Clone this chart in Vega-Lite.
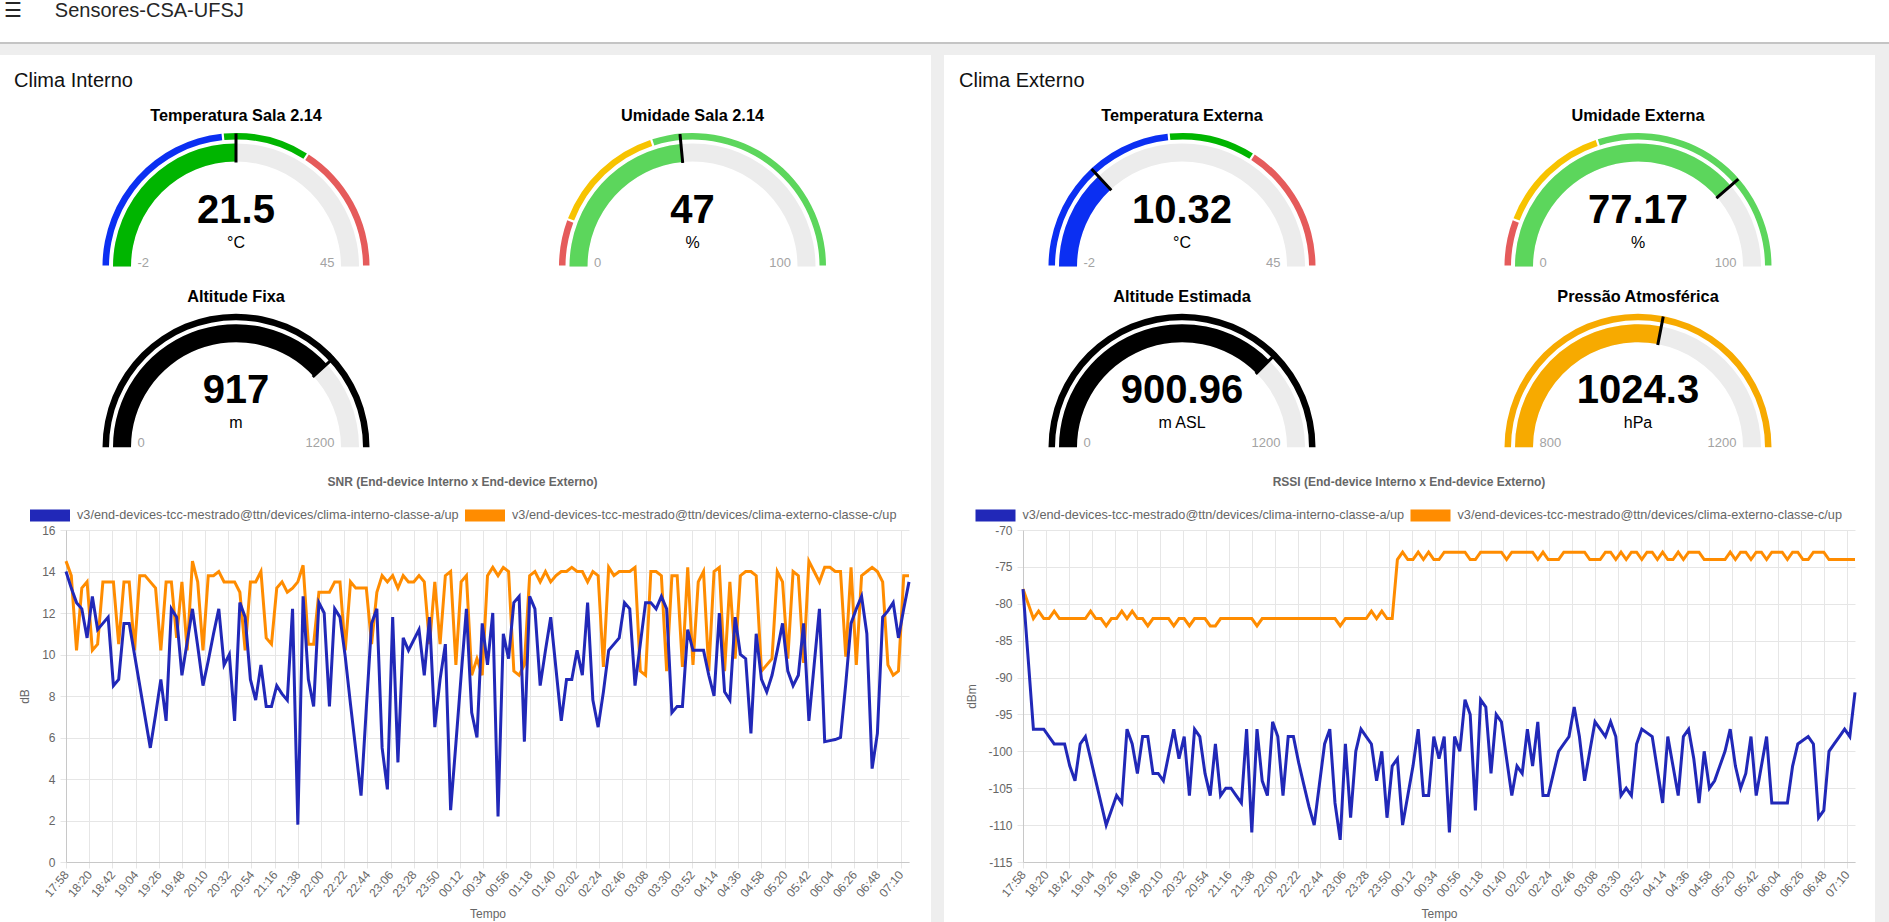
{
  "$schema": "https://vega.github.io/schema/vega-lite/v6.json",
  "background": "#ffffff",
  "padding": 0,
  "autosize": {"type": "pad"},
  "config": {
    "view": {"stroke": null},
    "font": "Liberation Sans",
    "text": {"font": "Liberation Sans"},
    "title": {"font": "Liberation Sans"},
    "legend": {"labelFont": "Liberation Sans"},
    "axis": {
      "labelFont": "Liberation Sans", "titleFont": "Liberation Sans",
      "labelFontSize": 12, "titleFontSize": 12,
      "labelColor": "#666666", "titleColor": "#666666", "titleFontWeight": "normal",
      "gridColor": "#e6e6e6", "tickColor": "#e6e6e6", "domainColor": "#c8c8c8", "tickSize": 6
    }
  },
  "datasets": {
    "leituras": [
      {"t":"2024-03-01T17:58","si":14,"se":14.5,"ri":-78,"re":-78},
      {"t":"2024-03-01T18:03","si":13.2,"se":13.8,"ri":-87.5,"re":-80},
      {"t":"2024-03-01T18:08","si":12.5,"se":10.2,"ri":-97,"re":-82},
      {"t":"2024-03-01T18:13","si":12.2,"se":13.2,"ri":-97,"re":-81},
      {"t":"2024-03-01T18:18","si":10.8,"se":13.5,"ri":-97,"re":-82},
      {"t":"2024-03-01T18:23","si":12.8,"se":10.2,"ri":-98,"re":-82},
      {"t":"2024-03-01T18:28","si":11.2,"se":10.5,"ri":-99,"re":-81},
      {"t":"2024-03-01T18:33","si":11.5,"se":13.5,"ri":-99,"re":-82},
      {"t":"2024-03-01T18:38","si":11.8,"se":13.5,"ri":-99,"re":-82},
      {"t":"2024-03-01T18:43","si":8.5,"se":13.5,"ri":-102,"re":-82},
      {"t":"2024-03-01T18:48","si":8.8,"se":10.5,"ri":-104,"re":-82},
      {"t":"2024-03-01T18:53","si":11.5,"se":13.5,"ri":-99,"re":-82},
      {"t":"2024-03-01T18:58","si":11.5,"se":13.5,"ri":-98,"re":-82},
      {"t":"2024-03-01T19:03","si":10,"se":10.2,"ri":-101,"re":-81},
      {"t":"2024-03-01T19:08","si":8.5,"se":13.8,"ri":-104,"re":-82},
      {"t":"2024-03-01T19:13","si":7,"se":13.8,"ri":-107,"re":-82},
      {"t":"2024-03-01T19:18","si":5.5,"se":13.5,"ri":-110,"re":-83},
      {"t":"2024-03-01T19:23","si":7.1,"se":13.2,"ri":-108,"re":-82},
      {"t":"2024-03-01T19:28","si":8.8,"se":10.2,"ri":-106,"re":-82},
      {"t":"2024-03-01T19:33","si":6.8,"se":13.5,"ri":-107,"re":-81},
      {"t":"2024-03-01T19:38","si":12.2,"se":13.5,"ri":-97,"re":-82},
      {"t":"2024-03-01T19:43","si":11.8,"se":10.8,"ri":-99,"re":-81},
      {"t":"2024-03-01T19:48","si":9,"se":13.5,"ri":-103,"re":-82},
      {"t":"2024-03-01T19:53","si":10.6,"se":10.2,"ri":-98,"re":-82},
      {"t":"2024-03-01T19:58","si":12.2,"se":14.5,"ri":-98,"re":-83},
      {"t":"2024-03-01T20:03","si":10.4,"se":13.5,"ri":-103,"re":-82},
      {"t":"2024-03-01T20:08","si":8.5,"se":10.2,"ri":-103,"re":-82},
      {"t":"2024-03-01T20:13","si":9.7,"se":13.8,"ri":-104,"re":-82},
      {"t":"2024-03-01T20:18","si":11,"se":13.8,"ri":-100.5,"re":-82},
      {"t":"2024-03-01T20:23","si":12.2,"se":14,"ri":-97,"re":-83},
      {"t":"2024-03-01T20:28","si":9.5,"se":13.5,"ri":-101,"re":-82},
      {"t":"2024-03-01T20:33","si":10,"se":13.5,"ri":-98,"re":-82},
      {"t":"2024-03-01T20:38","si":6.8,"se":13.5,"ri":-106,"re":-83},
      {"t":"2024-03-01T20:43","si":12.5,"se":13,"ri":-97,"re":-82},
      {"t":"2024-03-01T20:48","si":11.8,"se":10.2,"ri":-98,"re":-82},
      {"t":"2024-03-01T20:53","si":8.8,"se":13.5,"ri":-103,"re":-82},
      {"t":"2024-03-01T20:58","si":7.8,"se":13.5,"ri":-106,"re":-83},
      {"t":"2024-03-01T21:03","si":9.5,"se":14,"ri":-99,"re":-83},
      {"t":"2024-03-01T21:08","si":7.5,"se":10.8,"ri":-106,"re":-82},
      {"t":"2024-03-01T21:13","si":7.5,"se":10.5,"ri":-105,"re":-82},
      {"t":"2024-03-01T21:18","si":8.5,"se":13.2,"ri":-105,"re":-82},
      {"t":"2024-03-01T21:23","si":8.1,"se":13.5,"ri":-106,"re":-82},
      {"t":"2024-03-01T21:28","si":7.8,"se":13,"ri":-107,"re":-82},
      {"t":"2024-03-01T21:33","si":12.2,"se":13.2,"ri":-97,"re":-82},
      {"t":"2024-03-01T21:38","si":1.8,"se":13.5,"ri":-111,"re":-82},
      {"t":"2024-03-01T21:43","si":12.8,"se":14.3,"ri":-97,"re":-83},
      {"t":"2024-03-01T21:48","si":8.8,"se":10.5,"ri":-104,"re":-82},
      {"t":"2024-03-01T21:53","si":7.5,"se":10.5,"ri":-106,"re":-82},
      {"t":"2024-03-01T21:58","si":12.5,"se":13,"ri":-96,"re":-82},
      {"t":"2024-03-01T22:03","si":12,"se":13,"ri":-98,"re":-82},
      {"t":"2024-03-01T22:08","si":7.5,"se":13,"ri":-106,"re":-82},
      {"t":"2024-03-01T22:13","si":12.2,"se":13.5,"ri":-98,"re":-82},
      {"t":"2024-03-01T22:18","si":11.8,"se":13.5,"ri":-98,"re":-82},
      {"t":"2024-03-01T22:23","si":9.9,"se":10.2,"ri":-101.5,"re":-82},
      {"t":"2024-03-01T22:28","si":7.6,"se":13.5,"ri":-104.5,"re":-82},
      {"t":"2024-03-01T22:33","si":5.4,"se":13.2,"ri":-107.5,"re":-82},
      {"t":"2024-03-01T22:38","si":3.2,"se":13.2,"ri":-110,"re":-82},
      {"t":"2024-03-01T22:43","si":7.4,"se":13.2,"ri":-104.5,"re":-82},
      {"t":"2024-03-01T22:48","si":11.5,"se":10.5,"ri":-99,"re":-82},
      {"t":"2024-03-01T22:53","si":12.2,"se":13,"ri":-97,"re":-82},
      {"t":"2024-03-01T22:58","si":5.5,"se":13.8,"ri":-107,"re":-82},
      {"t":"2024-03-01T23:03","si":3.5,"se":13.5,"ri":-112,"re":-83},
      {"t":"2024-03-01T23:08","si":11.8,"se":13.8,"ri":-99,"re":-82},
      {"t":"2024-03-01T23:13","si":4.8,"se":13.2,"ri":-109,"re":-82},
      {"t":"2024-03-01T23:18","si":10.8,"se":13.8,"ri":-100,"re":-82},
      {"t":"2024-03-01T23:23","si":10.2,"se":13.5,"ri":-97,"re":-82},
      {"t":"2024-03-01T23:28","si":10.7,"se":13.5,"ri":-98,"re":-82},
      {"t":"2024-03-01T23:33","si":11.2,"se":13.8,"ri":-99,"re":-81},
      {"t":"2024-03-01T23:38","si":9,"se":13.5,"ri":-104,"re":-82},
      {"t":"2024-03-01T23:43","si":11.8,"se":10.5,"ri":-100,"re":-81},
      {"t":"2024-03-01T23:48","si":6.5,"se":13.5,"ri":-109,"re":-82},
      {"t":"2024-03-01T23:53","si":8.8,"se":10.5,"ri":-102,"re":-82},
      {"t":"2024-03-01T23:58","si":10.5,"se":13.8,"ri":-101,"re":-74},
      {"t":"2024-03-02T00:03","si":2.5,"se":14,"ri":-110,"re":-73},
      {"t":"2024-03-02T00:08","si":5.7,"se":9.5,"ri":-106,"re":-74},
      {"t":"2024-03-02T00:13","si":9,"se":13.5,"ri":-102,"re":-74},
      {"t":"2024-03-02T00:18","si":12.2,"se":13.8,"ri":-97,"re":-73},
      {"t":"2024-03-02T00:23","si":7.2,"se":9,"ri":-106,"re":-74},
      {"t":"2024-03-02T00:28","si":6,"se":9.8,"ri":-106,"re":-73},
      {"t":"2024-03-02T00:33","si":11.5,"se":9,"ri":-98,"re":-74},
      {"t":"2024-03-02T00:38","si":9.5,"se":13.8,"ri":-101,"re":-74},
      {"t":"2024-03-02T00:43","si":12,"se":14.2,"ri":-98,"re":-73},
      {"t":"2024-03-02T00:48","si":2.2,"se":13.8,"ri":-111,"re":-73},
      {"t":"2024-03-02T00:53","si":11,"se":14.2,"ri":-98,"re":-73},
      {"t":"2024-03-02T00:58","si":9.8,"se":14,"ri":-100,"re":-73},
      {"t":"2024-03-02T01:03","si":12.5,"se":9.2,"ri":-93,"re":-73},
      {"t":"2024-03-02T01:08","si":12.8,"se":9,"ri":-95,"re":-74},
      {"t":"2024-03-02T01:13","si":5.8,"se":9.5,"ri":-108,"re":-74},
      {"t":"2024-03-02T01:18","si":12.8,"se":13.8,"ri":-93,"re":-73},
      {"t":"2024-03-02T01:23","si":12.2,"se":14,"ri":-94,"re":-73},
      {"t":"2024-03-02T01:28","si":8.5,"se":13.5,"ri":-103,"re":-73},
      {"t":"2024-03-02T01:33","si":10.2,"se":14,"ri":-95,"re":-73},
      {"t":"2024-03-02T01:38","si":11.8,"se":13.5,"ri":-96,"re":-73},
      {"t":"2024-03-02T01:43","si":9.3,"se":13.8,"ri":-101,"re":-74},
      {"t":"2024-03-02T01:48","si":6.8,"se":14,"ri":-106,"re":-73},
      {"t":"2024-03-02T01:53","si":8.8,"se":14,"ri":-102,"re":-73},
      {"t":"2024-03-02T01:58","si":8.8,"se":14.2,"ri":-103,"re":-73},
      {"t":"2024-03-02T02:03","si":10.2,"se":14,"ri":-97,"re":-73},
      {"t":"2024-03-02T02:08","si":9,"se":14,"ri":-102,"re":-73},
      {"t":"2024-03-02T02:13","si":12.5,"se":13.5,"ri":-96,"re":-74},
      {"t":"2024-03-02T02:18","si":7.8,"se":14,"ri":-106,"re":-73},
      {"t":"2024-03-02T02:23","si":6.5,"se":13.8,"ri":-106,"re":-74},
      {"t":"2024-03-02T02:28","si":8.2,"se":9.4,"ri":-103,"re":-74},
      {"t":"2024-03-02T02:33","si":10.2,"se":14.2,"ri":-100,"re":-74},
      {"t":"2024-03-02T02:38","si":10.5,"se":13.8,"ri":-99,"re":-73},
      {"t":"2024-03-02T02:43","si":10.8,"se":14,"ri":-98,"re":-73},
      {"t":"2024-03-02T02:48","si":12.5,"se":14,"ri":-94,"re":-73},
      {"t":"2024-03-02T02:53","si":12.2,"se":14,"ri":-98,"re":-73},
      {"t":"2024-03-02T02:58","si":8.5,"se":14.2,"ri":-104,"re":-73},
      {"t":"2024-03-02T03:03","si":10.5,"se":9.2,"ri":-100,"re":-74},
      {"t":"2024-03-02T03:08","si":12.5,"se":9,"ri":-96,"re":-74},
      {"t":"2024-03-02T03:13","si":12.5,"se":14,"ri":-97,"re":-74},
      {"t":"2024-03-02T03:18","si":12.2,"se":14,"ri":-98,"re":-73},
      {"t":"2024-03-02T03:23","si":12.8,"se":13.8,"ri":-96,"re":-73},
      {"t":"2024-03-02T03:28","si":12.2,"se":9.2,"ri":-98,"re":-74},
      {"t":"2024-03-02T03:33","si":7.2,"se":13.8,"ri":-106,"re":-73},
      {"t":"2024-03-02T03:38","si":7.5,"se":13.8,"ri":-105,"re":-74},
      {"t":"2024-03-02T03:43","si":7.5,"se":9.4,"ri":-106,"re":-73},
      {"t":"2024-03-02T03:48","si":11.2,"se":14.2,"ri":-99,"re":-73},
      {"t":"2024-03-02T03:53","si":10.2,"se":9.5,"ri":-97,"re":-74},
      {"t":"2024-03-02T03:58","si":10.2,"se":13.5,"ri":-97.5,"re":-73},
      {"t":"2024-03-02T04:03","si":10.2,"se":14,"ri":-98,"re":-73},
      {"t":"2024-03-02T04:08","si":9,"se":9.2,"ri":-102.5,"re":-74},
      {"t":"2024-03-02T04:13","si":8,"se":14,"ri":-107,"re":-73},
      {"t":"2024-03-02T04:18","si":12,"se":14.2,"ri":-98,"re":-74},
      {"t":"2024-03-02T04:23","si":8.2,"se":9.2,"ri":-102,"re":-74},
      {"t":"2024-03-02T04:28","si":7.8,"se":13.5,"ri":-106,"re":-73},
      {"t":"2024-03-02T04:33","si":11.8,"se":9.8,"ri":-98,"re":-74},
      {"t":"2024-03-02T04:38","si":10,"se":13.8,"ri":-97,"re":-73},
      {"t":"2024-03-02T04:43","si":9.8,"se":14,"ri":-101,"re":-73},
      {"t":"2024-03-02T04:48","si":6.2,"se":14,"ri":-107,"re":-73},
      {"t":"2024-03-02T04:53","si":11,"se":13.8,"ri":-100,"re":-74},
      {"t":"2024-03-02T04:58","si":8.8,"se":9.2,"ri":-105,"re":-74},
      {"t":"2024-03-02T05:03","si":8.2,"se":9.5,"ri":-104,"re":-74},
      {"t":"2024-03-02T05:08","si":9,"se":9.8,"ri":-102,"re":-74},
      {"t":"2024-03-02T05:13","si":10.2,"se":14,"ri":-100,"re":-74},
      {"t":"2024-03-02T05:18","si":11.5,"se":13.5,"ri":-97,"re":-73},
      {"t":"2024-03-02T05:23","si":9.2,"se":9.8,"ri":-102,"re":-74},
      {"t":"2024-03-02T05:28","si":8.5,"se":14,"ri":-105,"re":-73},
      {"t":"2024-03-02T05:33","si":9,"se":13.8,"ri":-103,"re":-73},
      {"t":"2024-03-02T05:38","si":11.5,"se":9.6,"ri":-98,"re":-74},
      {"t":"2024-03-02T05:43","si":6.8,"se":14.5,"ri":-106,"re":-73},
      {"t":"2024-03-02T05:48","si":9.5,"se":14,"ri":-102,"re":-73},
      {"t":"2024-03-02T05:53","si":12.2,"se":13.5,"ri":-98,"re":-74},
      {"t":"2024-03-02T05:58","si":5.8,"se":14.2,"ri":-107,"re":-73},
      {"t":"2024-03-02T06:03","si":5.85,"se":14.2,"ri":-107,"re":-73},
      {"t":"2024-03-02T06:08","si":5.9,"se":14,"ri":-107,"re":-73},
      {"t":"2024-03-02T06:13","si":6,"se":14,"ri":-107,"re":-74},
      {"t":"2024-03-02T06:18","si":8.6,"se":9.9,"ri":-102,"re":-73},
      {"t":"2024-03-02T06:23","si":11.5,"se":14.2,"ri":-99,"re":-73},
      {"t":"2024-03-02T06:28","si":12.2,"se":9.5,"ri":-98.5,"re":-74},
      {"t":"2024-03-02T06:33","si":12.8,"se":13.8,"ri":-98,"re":-74},
      {"t":"2024-03-02T06:38","si":11,"se":14,"ri":-99,"re":-73},
      {"t":"2024-03-02T06:43","si":4.5,"se":14.2,"ri":-109,"re":-73},
      {"t":"2024-03-02T06:48","si":6.2,"se":14,"ri":-108,"re":-73},
      {"t":"2024-03-02T06:53","si":11.8,"se":13.5,"ri":-100,"re":-74},
      {"t":"2024-03-02T06:58","si":12.1,"se":9.5,"ri":-99,"re":-74},
      {"t":"2024-03-02T07:03","si":12.5,"se":9,"ri":-98,"re":-74},
      {"t":"2024-03-02T07:08","si":10.8,"se":9.2,"ri":-97,"re":-74},
      {"t":"2024-03-02T07:13","si":12.2,"se":13.8,"ri":-98,"re":-74},
      {"t":"2024-03-02T07:18","si":13.5,"se":13.8,"ri":-92,"re":-74}
    ]
  },
  "spacing": 0,
  "resolve": {"scale": {"theta": "independent", "color": "independent"}},
  "vconcat": [
    {
      "width": 1889, "height": 40,
      "data": {"values": []}, "mark": "point",
      "view": {"fill": "#ffffff"},
      "title": {"text": "☰\u00a0\u00a0\u00a0\u00a0\u00a0\u00a0Sensores-CSA-UFSJ", "anchor": "start", "offset": -34.5, "dx": 3.5, "baseline": "alphabetic", "fontSize": 20, "fontWeight": "normal", "color": "#262626"}
    },
    {"width": 1889, "height": 2, "data": {"values": []}, "mark": "point", "view": {"fill": "#c4c4c4"}},
    {"width": 1889, "height": 11, "data": {"values": []}, "mark": "point", "view": {"fill": "#eeeeee"}},
    {
      "spacing": 0,
      "resolve": {"scale": {"theta": "independent", "color": "independent"}},
      "hconcat": [
        {
          "spacing": 0,
          "resolve": {"scale": {"theta": "independent", "color": "independent"}},
          "vconcat": [
            {
              "width": 931, "height": 34,
              "data": {"values": []}, "mark": "point",
              "view": {"fill": "#ffffff"},
              "title": {"text": "Clima Interno", "anchor": "start", "offset": -51.5, "dx": 14, "baseline": "alphabetic", "fontSize": 20, "fontWeight": "normal", "color": "#111111"}
            },
            {
              "spacing": 0,
              "resolve": {"scale": {"theta": "independent", "color": "independent"}},
              "hconcat": [
                {
                  "width": 472, "height": 175.5, "view": {"fill": "#ffffff"},
                  "data": {"values": [{"titulo": "Temperatura Sala 2.14", "unidade": "°C", "min": -2, "max": 45, "valor": 21.5}]},
                  "encoding": {"y": {"value": "height"}},
                  "layer": [
                    {"mark": {"type": "arc", "innerRadius": 105, "outerRadius": 123, "color": "#ececec"},
                     "encoding": {"theta": {"field": "min", "type": "quantitative", "scale": {"domain": [-2, 45], "range": [-1.5708, 1.5708], "zero": false, "nice": false}}, "theta2": {"field": "max"}}},
                    {"mark": {"type": "arc", "innerRadius": 105, "outerRadius": 123, "color": "#00b500"},
                     "encoding": {"theta": {"field": "min", "type": "quantitative"}, "theta2": {"field": "valor"}}},
                    {"data": {"values": [{"de": -2, "ate": 20, "faixa": "frio"}, {"de": 20, "ate": 30, "faixa": "ideal"}, {"de": 30, "ate": 45, "faixa": "quente"}]},
                     "mark": {"type": "arc", "innerRadius": 127, "outerRadius": 133.5, "padAngle": 0.012},
                     "encoding": {"theta": {"field": "de", "type": "quantitative"}, "theta2": {"field": "ate"}, "color": {"field": "faixa", "type": "nominal", "scale": {"domain": ["frio", "ideal", "quente"], "range": ["#0b2ff2", "#00b500", "#e55b5b"]}, "legend": null}}},
                    {"mark": {"type": "arc", "innerRadius": 104, "outerRadius": 133, "color": "#000000", "stroke": "#000000", "strokeWidth": 3},
                     "encoding": {"theta": {"field": "valor", "type": "quantitative"}, "theta2": {"field": "valor"}}},
                    {"mark": {"type": "text", "radius": 98.5, "align": "left", "baseline": "alphabetic", "fontSize": 13, "color": "#a3a3a3"},
                     "encoding": {"theta": {"field": "min", "type": "quantitative"}, "text": {"field": "min", "type": "nominal"}}},
                    {"mark": {"type": "text", "radius": 98.5, "align": "right", "baseline": "alphabetic", "fontSize": 13, "color": "#a3a3a3"},
                     "encoding": {"theta": {"field": "max", "type": "quantitative"}, "text": {"field": "max", "type": "nominal"}}},
                    {"mark": {"type": "text", "dy": -44, "align": "center", "baseline": "alphabetic", "fontSize": 40, "fontWeight": "bold", "color": "#000000"},
                     "encoding": {"text": {"field": "valor", "type": "nominal"}}},
                    {"mark": {"type": "text", "dy": -19, "align": "center", "baseline": "alphabetic", "fontSize": 16, "color": "#000000"},
                     "encoding": {"text": {"field": "unidade", "type": "nominal"}}},
                    {"mark": {"type": "text", "dy": -145.5, "align": "center", "baseline": "alphabetic", "fontSize": 16.3, "fontWeight": "bold", "color": "#000000"},
                     "encoding": {"text": {"field": "titulo", "type": "nominal"}}}
                  ]
                },
                {
                  "width": 441, "height": 175.5, "view": {"fill": "#ffffff"},
                  "data": {"values": [{"titulo": "Umidade Sala 2.14", "unidade": "%", "min": 0, "max": 100, "valor": 47}]},
                  "encoding": {"y": {"value": "height"}},
                  "layer": [
                    {"mark": {"type": "arc", "innerRadius": 105, "outerRadius": 123, "color": "#ececec"},
                     "encoding": {"theta": {"field": "min", "type": "quantitative", "scale": {"domain": [0, 100], "range": [-1.5708, 1.5708], "zero": false, "nice": false}}, "theta2": {"field": "max"}}},
                    {"mark": {"type": "arc", "innerRadius": 105, "outerRadius": 123, "color": "#5cd65c"},
                     "encoding": {"theta": {"field": "min", "type": "quantitative"}, "theta2": {"field": "valor"}}},
                    {"data": {"values": [{"de": 0, "ate": 11.5, "faixa": "seco"}, {"de": 11.5, "ate": 40, "faixa": "baixo"}, {"de": 40, "ate": 100, "faixa": "bom"}]},
                     "mark": {"type": "arc", "innerRadius": 127, "outerRadius": 133.5, "padAngle": 0.012},
                     "encoding": {"theta": {"field": "de", "type": "quantitative"}, "theta2": {"field": "ate"}, "color": {"field": "faixa", "type": "nominal", "scale": {"domain": ["seco", "baixo", "bom"], "range": ["#e55b5b", "#f7c300", "#5cd65c"]}, "legend": null}}},
                    {"mark": {"type": "arc", "innerRadius": 104, "outerRadius": 133, "color": "#000000", "stroke": "#000000", "strokeWidth": 3},
                     "encoding": {"theta": {"field": "valor", "type": "quantitative"}, "theta2": {"field": "valor"}}},
                    {"mark": {"type": "text", "radius": 98.5, "align": "left", "baseline": "alphabetic", "fontSize": 13, "color": "#a3a3a3"},
                     "encoding": {"theta": {"field": "min", "type": "quantitative"}, "text": {"field": "min", "type": "nominal"}}},
                    {"mark": {"type": "text", "radius": 98.5, "align": "right", "baseline": "alphabetic", "fontSize": 13, "color": "#a3a3a3"},
                     "encoding": {"theta": {"field": "max", "type": "quantitative"}, "text": {"field": "max", "type": "nominal"}}},
                    {"mark": {"type": "text", "dy": -44, "align": "center", "baseline": "alphabetic", "fontSize": 40, "fontWeight": "bold", "color": "#000000"},
                     "encoding": {"text": {"field": "valor", "type": "nominal"}}},
                    {"mark": {"type": "text", "dy": -19, "align": "center", "baseline": "alphabetic", "fontSize": 16, "color": "#000000"},
                     "encoding": {"text": {"field": "unidade", "type": "nominal"}}},
                    {"mark": {"type": "text", "dy": -145.5, "align": "center", "baseline": "alphabetic", "fontSize": 16.3, "fontWeight": "bold", "color": "#000000"},
                     "encoding": {"text": {"field": "titulo", "type": "nominal"}}}
                  ]
                }
              ]
            },
            {
              "spacing": 0,
              "resolve": {"scale": {"theta": "independent", "color": "independent"}},
              "hconcat": [
                {
                  "width": 472, "height": 177.2, "view": {"fill": "#ffffff"},
                  "data": {"values": [{"titulo": "Altitude Fixa", "unidade": "m", "min": 0, "max": 1200, "valor": 917}]},
                  "encoding": {"y": {"value": "height"}},
                  "layer": [
                    {"mark": {"type": "arc", "innerRadius": 105, "outerRadius": 123, "color": "#ececec"},
                     "encoding": {"theta": {"field": "min", "type": "quantitative", "scale": {"domain": [0, 1200], "range": [-1.5708, 1.5708], "zero": false, "nice": false}}, "theta2": {"field": "max"}}},
                    {"mark": {"type": "arc", "innerRadius": 105, "outerRadius": 123, "color": "#000000"},
                     "encoding": {"theta": {"field": "min", "type": "quantitative"}, "theta2": {"field": "valor"}}},
                    {"mark": {"type": "arc", "innerRadius": 127, "outerRadius": 133.5, "color": "#000000"},
                     "encoding": {"theta": {"field": "min", "type": "quantitative"}, "theta2": {"field": "max"}}},
                    {"mark": {"type": "arc", "innerRadius": 104, "outerRadius": 133, "color": "#000000", "stroke": "#000000", "strokeWidth": 3},
                     "encoding": {"theta": {"field": "valor", "type": "quantitative"}, "theta2": {"field": "valor"}}},
                    {"mark": {"type": "text", "radius": 98.5, "align": "left", "baseline": "alphabetic", "fontSize": 13, "color": "#a3a3a3"},
                     "encoding": {"theta": {"field": "min", "type": "quantitative"}, "text": {"field": "min", "type": "nominal"}}},
                    {"mark": {"type": "text", "radius": 98.5, "align": "right", "baseline": "alphabetic", "fontSize": 13, "color": "#a3a3a3"},
                     "encoding": {"theta": {"field": "max", "type": "quantitative"}, "text": {"field": "max", "type": "nominal"}}},
                    {"mark": {"type": "text", "dy": -44, "align": "center", "baseline": "alphabetic", "fontSize": 40, "fontWeight": "bold", "color": "#000000"},
                     "encoding": {"text": {"field": "valor", "type": "nominal"}}},
                    {"mark": {"type": "text", "dy": -19, "align": "center", "baseline": "alphabetic", "fontSize": 16, "color": "#000000"},
                     "encoding": {"text": {"field": "unidade", "type": "nominal"}}},
                    {"mark": {"type": "text", "dy": -145.5, "align": "center", "baseline": "alphabetic", "fontSize": 16.3, "fontWeight": "bold", "color": "#000000"},
                     "encoding": {"text": {"field": "titulo", "type": "nominal"}}}
                  ]
                },
                {"width": 441, "height": 177.2, "data": {"values": []}, "mark": "point", "view": {"fill": "#ffffff"}}
              ]
            },
            {"width": 931, "height": 23.6, "data": {"values": []}, "mark": "point", "view": {"fill": "#ffffff"}},
            {
              "spacing": 0,
              "hconcat": [
                {"width": 17.4, "height": 1, "data": {"values": []}, "mark": "point", "view": {"fill": "#ffffff"}},
                {
                  "width": 843, "height": 332,
                  "data": {"name": "leituras"},
                  "transform": [{"fold": ["se", "si"], "as": ["serie", "valor"]}],
                  "title": {"text": "SNR (End-device Interno x End-device Externo)", "fontSize": 12, "fontWeight": "bold", "color": "#666666", "baseline": "middle", "offset": 30.5, "anchor": "middle", "dx": -25},
                  "mark": {"type": "line", "strokeWidth": 3},
                  "encoding": {
                    "x": {
                      "field": "t", "type": "temporal",
                      "scale": {"domain": [{"year": 2024, "month": 3, "date": 1, "hours": 17, "minutes": 58}, {"year": 2024, "month": 3, "date": 2, "hours": 7, "minutes": 18}], "nice": false},
                      "axis": {
                        "values": [
                          {"year": 2024, "month": 3, "date": 1, "hours": 17, "minutes": 58},
                          {"year": 2024, "month": 3, "date": 1, "hours": 18, "minutes": 20},
                          {"year": 2024, "month": 3, "date": 1, "hours": 18, "minutes": 42},
                          {"year": 2024, "month": 3, "date": 1, "hours": 19, "minutes": 4},
                          {"year": 2024, "month": 3, "date": 1, "hours": 19, "minutes": 26},
                          {"year": 2024, "month": 3, "date": 1, "hours": 19, "minutes": 48},
                          {"year": 2024, "month": 3, "date": 1, "hours": 20, "minutes": 10},
                          {"year": 2024, "month": 3, "date": 1, "hours": 20, "minutes": 32},
                          {"year": 2024, "month": 3, "date": 1, "hours": 20, "minutes": 54},
                          {"year": 2024, "month": 3, "date": 1, "hours": 21, "minutes": 16},
                          {"year": 2024, "month": 3, "date": 1, "hours": 21, "minutes": 38},
                          {"year": 2024, "month": 3, "date": 1, "hours": 22, "minutes": 0},
                          {"year": 2024, "month": 3, "date": 1, "hours": 22, "minutes": 22},
                          {"year": 2024, "month": 3, "date": 1, "hours": 22, "minutes": 44},
                          {"year": 2024, "month": 3, "date": 1, "hours": 23, "minutes": 6},
                          {"year": 2024, "month": 3, "date": 1, "hours": 23, "minutes": 28},
                          {"year": 2024, "month": 3, "date": 1, "hours": 23, "minutes": 50},
                          {"year": 2024, "month": 3, "date": 2, "hours": 0, "minutes": 12},
                          {"year": 2024, "month": 3, "date": 2, "hours": 0, "minutes": 34},
                          {"year": 2024, "month": 3, "date": 2, "hours": 0, "minutes": 56},
                          {"year": 2024, "month": 3, "date": 2, "hours": 1, "minutes": 18},
                          {"year": 2024, "month": 3, "date": 2, "hours": 1, "minutes": 40},
                          {"year": 2024, "month": 3, "date": 2, "hours": 2, "minutes": 2},
                          {"year": 2024, "month": 3, "date": 2, "hours": 2, "minutes": 24},
                          {"year": 2024, "month": 3, "date": 2, "hours": 2, "minutes": 46},
                          {"year": 2024, "month": 3, "date": 2, "hours": 3, "minutes": 8},
                          {"year": 2024, "month": 3, "date": 2, "hours": 3, "minutes": 30},
                          {"year": 2024, "month": 3, "date": 2, "hours": 3, "minutes": 52},
                          {"year": 2024, "month": 3, "date": 2, "hours": 4, "minutes": 14},
                          {"year": 2024, "month": 3, "date": 2, "hours": 4, "minutes": 36},
                          {"year": 2024, "month": 3, "date": 2, "hours": 4, "minutes": 58},
                          {"year": 2024, "month": 3, "date": 2, "hours": 5, "minutes": 20},
                          {"year": 2024, "month": 3, "date": 2, "hours": 5, "minutes": 42},
                          {"year": 2024, "month": 3, "date": 2, "hours": 6, "minutes": 4},
                          {"year": 2024, "month": 3, "date": 2, "hours": 6, "minutes": 26},
                          {"year": 2024, "month": 3, "date": 2, "hours": 6, "minutes": 48},
                          {"year": 2024, "month": 3, "date": 2, "hours": 7, "minutes": 10}
                        ],
                        "format": "%H:%M", "labelAngle": -50, "labelAlign": "right", "labelBaseline": "middle",
                        "labelOverlap": false, "labelFlush": false, "labelPadding": 4, "grid": true,
                        "title": "Tempo", "titlePadding": 10
                      }
                    },
                    "y": {
                      "field": "valor", "type": "quantitative",
                      "scale": {"domain": [0, 16], "nice": false, "zero": false},
                      "axis": {"values": [0, 2, 4, 6, 8, 10, 12, 14, 16], "title": "dB", "titlePadding": 10, "labelPadding": 5, "grid": true}
                    },
                    "color": {
                      "field": "serie", "type": "nominal",
                      "scale": {"domain": ["si", "se"], "range": ["#2128b8", "#ff8c00"]},
                      "legend": {
                        "orient": "none", "legendX": 24, "legendY": -40.6, "direction": "horizontal", "columns": 2,
                        "title": null, "padding": 0,
                        "symbolType": "M-1,0H1", "symbolSize": 1600, "symbolStrokeWidth": 12,
                        "labelFontSize": 12.7, "labelColor": "#666666", "labelLimit": 600, "labelOffset": 1, "columnPadding": -18,
                        "labelExpr": "datum.label == 'si' ? 'v3/end-devices-tcc-mestrado@ttn/devices/clima-interno-classe-a/up' : 'v3/end-devices-tcc-mestrado@ttn/devices/clima-externo-classe-c/up'",
                        "encode": {"symbols": {"update": {"strokeWidth": {"value": 12}}}}
                      }
                    }
                  }
                }
              ]
            }
          ]
        },
        {"width": 13, "height": 869, "data": {"values": []}, "mark": "point", "view": {"fill": "#eeeeee"}},
        {
          "spacing": 0,
          "resolve": {"scale": {"theta": "independent", "color": "independent"}},
          "vconcat": [
            {
              "width": 931, "height": 34,
              "data": {"values": []}, "mark": "point",
              "view": {"fill": "#ffffff"},
              "title": {"text": "Clima Externo", "anchor": "start", "offset": -51.5, "dx": 15, "baseline": "alphabetic", "fontSize": 20, "fontWeight": "normal", "color": "#111111"}
            },
            {
              "spacing": 0,
              "resolve": {"scale": {"theta": "independent", "color": "independent"}},
              "hconcat": [
                {
                  "width": 476, "height": 175.5, "view": {"fill": "#ffffff"},
                  "data": {"values": [{"titulo": "Temperatura Externa", "unidade": "°C", "min": -2, "max": 45, "valor": 10.32}]},
                  "encoding": {"y": {"value": "height"}},
                  "layer": [
                    {"mark": {"type": "arc", "innerRadius": 105, "outerRadius": 123, "color": "#ececec"},
                     "encoding": {"theta": {"field": "min", "type": "quantitative", "scale": {"domain": [-2, 45], "range": [-1.5708, 1.5708], "zero": false, "nice": false}}, "theta2": {"field": "max"}}},
                    {"mark": {"type": "arc", "innerRadius": 105, "outerRadius": 123, "color": "#0b2ff2"},
                     "encoding": {"theta": {"field": "min", "type": "quantitative"}, "theta2": {"field": "valor"}}},
                    {"data": {"values": [{"de": -2, "ate": 20, "faixa": "frio"}, {"de": 20, "ate": 30, "faixa": "ideal"}, {"de": 30, "ate": 45, "faixa": "quente"}]},
                     "mark": {"type": "arc", "innerRadius": 127, "outerRadius": 133.5, "padAngle": 0.012},
                     "encoding": {"theta": {"field": "de", "type": "quantitative"}, "theta2": {"field": "ate"}, "color": {"field": "faixa", "type": "nominal", "scale": {"domain": ["frio", "ideal", "quente"], "range": ["#0b2ff2", "#00b500", "#e55b5b"]}, "legend": null}}},
                    {"mark": {"type": "arc", "innerRadius": 104, "outerRadius": 133, "color": "#000000", "stroke": "#000000", "strokeWidth": 3},
                     "encoding": {"theta": {"field": "valor", "type": "quantitative"}, "theta2": {"field": "valor"}}},
                    {"mark": {"type": "text", "radius": 98.5, "align": "left", "baseline": "alphabetic", "fontSize": 13, "color": "#a3a3a3"},
                     "encoding": {"theta": {"field": "min", "type": "quantitative"}, "text": {"field": "min", "type": "nominal"}}},
                    {"mark": {"type": "text", "radius": 98.5, "align": "right", "baseline": "alphabetic", "fontSize": 13, "color": "#a3a3a3"},
                     "encoding": {"theta": {"field": "max", "type": "quantitative"}, "text": {"field": "max", "type": "nominal"}}},
                    {"mark": {"type": "text", "dy": -44, "align": "center", "baseline": "alphabetic", "fontSize": 40, "fontWeight": "bold", "color": "#000000"},
                     "encoding": {"text": {"field": "valor", "type": "nominal"}}},
                    {"mark": {"type": "text", "dy": -19, "align": "center", "baseline": "alphabetic", "fontSize": 16, "color": "#000000"},
                     "encoding": {"text": {"field": "unidade", "type": "nominal"}}},
                    {"mark": {"type": "text", "dy": -145.5, "align": "center", "baseline": "alphabetic", "fontSize": 16.3, "fontWeight": "bold", "color": "#000000"},
                     "encoding": {"text": {"field": "titulo", "type": "nominal"}}}
                  ]
                },
                {
                  "width": 436, "height": 175.5, "view": {"fill": "#ffffff"},
                  "data": {"values": [{"titulo": "Umidade Externa", "unidade": "%", "min": 0, "max": 100, "valor": 77.17}]},
                  "encoding": {"y": {"value": "height"}},
                  "layer": [
                    {"mark": {"type": "arc", "innerRadius": 105, "outerRadius": 123, "color": "#ececec"},
                     "encoding": {"theta": {"field": "min", "type": "quantitative", "scale": {"domain": [0, 100], "range": [-1.5708, 1.5708], "zero": false, "nice": false}}, "theta2": {"field": "max"}}},
                    {"mark": {"type": "arc", "innerRadius": 105, "outerRadius": 123, "color": "#5cd65c"},
                     "encoding": {"theta": {"field": "min", "type": "quantitative"}, "theta2": {"field": "valor"}}},
                    {"data": {"values": [{"de": 0, "ate": 11.5, "faixa": "seco"}, {"de": 11.5, "ate": 40, "faixa": "baixo"}, {"de": 40, "ate": 100, "faixa": "bom"}]},
                     "mark": {"type": "arc", "innerRadius": 127, "outerRadius": 133.5, "padAngle": 0.012},
                     "encoding": {"theta": {"field": "de", "type": "quantitative"}, "theta2": {"field": "ate"}, "color": {"field": "faixa", "type": "nominal", "scale": {"domain": ["seco", "baixo", "bom"], "range": ["#e55b5b", "#f7c300", "#5cd65c"]}, "legend": null}}},
                    {"mark": {"type": "arc", "innerRadius": 104, "outerRadius": 133, "color": "#000000", "stroke": "#000000", "strokeWidth": 3},
                     "encoding": {"theta": {"field": "valor", "type": "quantitative"}, "theta2": {"field": "valor"}}},
                    {"mark": {"type": "text", "radius": 98.5, "align": "left", "baseline": "alphabetic", "fontSize": 13, "color": "#a3a3a3"},
                     "encoding": {"theta": {"field": "min", "type": "quantitative"}, "text": {"field": "min", "type": "nominal"}}},
                    {"mark": {"type": "text", "radius": 98.5, "align": "right", "baseline": "alphabetic", "fontSize": 13, "color": "#a3a3a3"},
                     "encoding": {"theta": {"field": "max", "type": "quantitative"}, "text": {"field": "max", "type": "nominal"}}},
                    {"mark": {"type": "text", "dy": -44, "align": "center", "baseline": "alphabetic", "fontSize": 40, "fontWeight": "bold", "color": "#000000"},
                     "encoding": {"text": {"field": "valor", "type": "nominal"}}},
                    {"mark": {"type": "text", "dy": -19, "align": "center", "baseline": "alphabetic", "fontSize": 16, "color": "#000000"},
                     "encoding": {"text": {"field": "unidade", "type": "nominal"}}},
                    {"mark": {"type": "text", "dy": -145.5, "align": "center", "baseline": "alphabetic", "fontSize": 16.3, "fontWeight": "bold", "color": "#000000"},
                     "encoding": {"text": {"field": "titulo", "type": "nominal"}}}
                  ]
                }
              ]
            },
            {
              "spacing": 0,
              "resolve": {"scale": {"theta": "independent", "color": "independent"}},
              "hconcat": [
                {
                  "width": 476, "height": 177.2, "view": {"fill": "#ffffff"},
                  "data": {"values": [{"titulo": "Altitude Estimada", "unidade": "m ASL", "min": 0, "max": 1200, "valor": 900.96}]},
                  "encoding": {"y": {"value": "height"}},
                  "layer": [
                    {"mark": {"type": "arc", "innerRadius": 105, "outerRadius": 123, "color": "#ececec"},
                     "encoding": {"theta": {"field": "min", "type": "quantitative", "scale": {"domain": [0, 1200], "range": [-1.5708, 1.5708], "zero": false, "nice": false}}, "theta2": {"field": "max"}}},
                    {"mark": {"type": "arc", "innerRadius": 105, "outerRadius": 123, "color": "#000000"},
                     "encoding": {"theta": {"field": "min", "type": "quantitative"}, "theta2": {"field": "valor"}}},
                    {"mark": {"type": "arc", "innerRadius": 127, "outerRadius": 133.5, "color": "#000000"},
                     "encoding": {"theta": {"field": "min", "type": "quantitative"}, "theta2": {"field": "max"}}},
                    {"mark": {"type": "arc", "innerRadius": 104, "outerRadius": 133, "color": "#000000", "stroke": "#000000", "strokeWidth": 3},
                     "encoding": {"theta": {"field": "valor", "type": "quantitative"}, "theta2": {"field": "valor"}}},
                    {"mark": {"type": "text", "radius": 98.5, "align": "left", "baseline": "alphabetic", "fontSize": 13, "color": "#a3a3a3"},
                     "encoding": {"theta": {"field": "min", "type": "quantitative"}, "text": {"field": "min", "type": "nominal"}}},
                    {"mark": {"type": "text", "radius": 98.5, "align": "right", "baseline": "alphabetic", "fontSize": 13, "color": "#a3a3a3"},
                     "encoding": {"theta": {"field": "max", "type": "quantitative"}, "text": {"field": "max", "type": "nominal"}}},
                    {"mark": {"type": "text", "dy": -44, "align": "center", "baseline": "alphabetic", "fontSize": 40, "fontWeight": "bold", "color": "#000000"},
                     "encoding": {"text": {"field": "valor", "type": "nominal"}}},
                    {"mark": {"type": "text", "dy": -19, "align": "center", "baseline": "alphabetic", "fontSize": 16, "color": "#000000"},
                     "encoding": {"text": {"field": "unidade", "type": "nominal"}}},
                    {"mark": {"type": "text", "dy": -145.5, "align": "center", "baseline": "alphabetic", "fontSize": 16.3, "fontWeight": "bold", "color": "#000000"},
                     "encoding": {"text": {"field": "titulo", "type": "nominal"}}}
                  ]
                },
                {
                  "width": 436, "height": 177.2, "view": {"fill": "#ffffff"},
                  "data": {"values": [{"titulo": "Pressão Atmosférica", "unidade": "hPa", "min": 800, "max": 1200, "valor": 1024.3}]},
                  "encoding": {"y": {"value": "height"}},
                  "layer": [
                    {"mark": {"type": "arc", "innerRadius": 105, "outerRadius": 123, "color": "#ececec"},
                     "encoding": {"theta": {"field": "min", "type": "quantitative", "scale": {"domain": [800, 1200], "range": [-1.5708, 1.5708], "zero": false, "nice": false}}, "theta2": {"field": "max"}}},
                    {"mark": {"type": "arc", "innerRadius": 105, "outerRadius": 123, "color": "#f7aa00"},
                     "encoding": {"theta": {"field": "min", "type": "quantitative"}, "theta2": {"field": "valor"}}},
                    {"mark": {"type": "arc", "innerRadius": 127, "outerRadius": 133.5, "color": "#f7aa00"},
                     "encoding": {"theta": {"field": "min", "type": "quantitative"}, "theta2": {"field": "max"}}},
                    {"mark": {"type": "arc", "innerRadius": 104, "outerRadius": 133, "color": "#000000", "stroke": "#000000", "strokeWidth": 3},
                     "encoding": {"theta": {"field": "valor", "type": "quantitative"}, "theta2": {"field": "valor"}}},
                    {"mark": {"type": "text", "radius": 98.5, "align": "left", "baseline": "alphabetic", "fontSize": 13, "color": "#a3a3a3"},
                     "encoding": {"theta": {"field": "min", "type": "quantitative"}, "text": {"field": "min", "type": "nominal"}}},
                    {"mark": {"type": "text", "radius": 98.5, "align": "right", "baseline": "alphabetic", "fontSize": 13, "color": "#a3a3a3"},
                     "encoding": {"theta": {"field": "max", "type": "quantitative"}, "text": {"field": "max", "type": "nominal"}}},
                    {"mark": {"type": "text", "dy": -44, "align": "center", "baseline": "alphabetic", "fontSize": 40, "fontWeight": "bold", "color": "#000000"},
                     "encoding": {"text": {"field": "valor", "type": "nominal"}}},
                    {"mark": {"type": "text", "dy": -19, "align": "center", "baseline": "alphabetic", "fontSize": 16, "color": "#000000"},
                     "encoding": {"text": {"field": "unidade", "type": "nominal"}}},
                    {"mark": {"type": "text", "dy": -145.5, "align": "center", "baseline": "alphabetic", "fontSize": 16.3, "fontWeight": "bold", "color": "#000000"},
                     "encoding": {"text": {"field": "titulo", "type": "nominal"}}}
                  ]
                }
              ]
            },
            {"width": 931, "height": 23.6, "data": {"values": []}, "mark": "point", "view": {"fill": "#ffffff"}},
            {
              "spacing": 0,
              "hconcat": [
                {"width": 20.3, "height": 1, "data": {"values": []}, "mark": "point", "view": {"fill": "#ffffff"}},
                {
                  "width": 832, "height": 332,
                  "data": {"name": "leituras"},
                  "transform": [{"fold": ["re", "ri"], "as": ["serie", "valor"]}],
                  "title": {"text": "RSSI (End-device Interno x End-device Externo)", "fontSize": 12, "fontWeight": "bold", "color": "#666666", "baseline": "middle", "offset": 30.5, "anchor": "middle", "dx": -30},
                  "mark": {"type": "line", "strokeWidth": 3},
                  "encoding": {
                    "x": {
                      "field": "t", "type": "temporal",
                      "scale": {"domain": [{"year": 2024, "month": 3, "date": 1, "hours": 17, "minutes": 58}, {"year": 2024, "month": 3, "date": 2, "hours": 7, "minutes": 18}], "nice": false},
                      "axis": {
                        "values": [
                          {"year": 2024, "month": 3, "date": 1, "hours": 17, "minutes": 58},
                          {"year": 2024, "month": 3, "date": 1, "hours": 18, "minutes": 20},
                          {"year": 2024, "month": 3, "date": 1, "hours": 18, "minutes": 42},
                          {"year": 2024, "month": 3, "date": 1, "hours": 19, "minutes": 4},
                          {"year": 2024, "month": 3, "date": 1, "hours": 19, "minutes": 26},
                          {"year": 2024, "month": 3, "date": 1, "hours": 19, "minutes": 48},
                          {"year": 2024, "month": 3, "date": 1, "hours": 20, "minutes": 10},
                          {"year": 2024, "month": 3, "date": 1, "hours": 20, "minutes": 32},
                          {"year": 2024, "month": 3, "date": 1, "hours": 20, "minutes": 54},
                          {"year": 2024, "month": 3, "date": 1, "hours": 21, "minutes": 16},
                          {"year": 2024, "month": 3, "date": 1, "hours": 21, "minutes": 38},
                          {"year": 2024, "month": 3, "date": 1, "hours": 22, "minutes": 0},
                          {"year": 2024, "month": 3, "date": 1, "hours": 22, "minutes": 22},
                          {"year": 2024, "month": 3, "date": 1, "hours": 22, "minutes": 44},
                          {"year": 2024, "month": 3, "date": 1, "hours": 23, "minutes": 6},
                          {"year": 2024, "month": 3, "date": 1, "hours": 23, "minutes": 28},
                          {"year": 2024, "month": 3, "date": 1, "hours": 23, "minutes": 50},
                          {"year": 2024, "month": 3, "date": 2, "hours": 0, "minutes": 12},
                          {"year": 2024, "month": 3, "date": 2, "hours": 0, "minutes": 34},
                          {"year": 2024, "month": 3, "date": 2, "hours": 0, "minutes": 56},
                          {"year": 2024, "month": 3, "date": 2, "hours": 1, "minutes": 18},
                          {"year": 2024, "month": 3, "date": 2, "hours": 1, "minutes": 40},
                          {"year": 2024, "month": 3, "date": 2, "hours": 2, "minutes": 2},
                          {"year": 2024, "month": 3, "date": 2, "hours": 2, "minutes": 24},
                          {"year": 2024, "month": 3, "date": 2, "hours": 2, "minutes": 46},
                          {"year": 2024, "month": 3, "date": 2, "hours": 3, "minutes": 8},
                          {"year": 2024, "month": 3, "date": 2, "hours": 3, "minutes": 30},
                          {"year": 2024, "month": 3, "date": 2, "hours": 3, "minutes": 52},
                          {"year": 2024, "month": 3, "date": 2, "hours": 4, "minutes": 14},
                          {"year": 2024, "month": 3, "date": 2, "hours": 4, "minutes": 36},
                          {"year": 2024, "month": 3, "date": 2, "hours": 4, "minutes": 58},
                          {"year": 2024, "month": 3, "date": 2, "hours": 5, "minutes": 20},
                          {"year": 2024, "month": 3, "date": 2, "hours": 5, "minutes": 42},
                          {"year": 2024, "month": 3, "date": 2, "hours": 6, "minutes": 4},
                          {"year": 2024, "month": 3, "date": 2, "hours": 6, "minutes": 26},
                          {"year": 2024, "month": 3, "date": 2, "hours": 6, "minutes": 48},
                          {"year": 2024, "month": 3, "date": 2, "hours": 7, "minutes": 10}
                        ],
                        "format": "%H:%M", "labelAngle": -50, "labelAlign": "right", "labelBaseline": "middle",
                        "labelOverlap": false, "labelFlush": false, "labelPadding": 4, "grid": true,
                        "title": "Tempo", "titlePadding": 10
                      }
                    },
                    "y": {
                      "field": "valor", "type": "quantitative",
                      "scale": {"domain": [-115, -70], "nice": false, "zero": false},
                      "axis": {"values": [-115, -110, -105, -100, -95, -90, -85, -80, -75, -70], "labelExpr": "'' + datum.value", "title": "dBm", "titlePadding": 9, "labelPadding": 5, "grid": true}
                    },
                    "color": {
                      "field": "serie", "type": "nominal",
                      "scale": {"domain": ["ri", "re"], "range": ["#2128b8", "#ff8c00"]},
                      "legend": {
                        "orient": "none", "legendX": 25.5, "legendY": -40.6, "direction": "horizontal", "columns": 2,
                        "title": null, "padding": 0,
                        "symbolType": "M-1,0H1", "symbolSize": 1600, "symbolStrokeWidth": 12,
                        "labelFontSize": 12.7, "labelColor": "#666666", "labelLimit": 600, "labelOffset": 1, "columnPadding": -18,
                        "labelExpr": "datum.label == 'ri' ? 'v3/end-devices-tcc-mestrado@ttn/devices/clima-interno-classe-a/up' : 'v3/end-devices-tcc-mestrado@ttn/devices/clima-externo-classe-c/up'",
                        "encode": {"symbols": {"update": {"strokeWidth": {"value": 12}}}}
                      }
                    }
                  }
                }
              ]
            }
          ]
        },
        {"width": 14, "height": 869, "data": {"values": []}, "mark": "point", "view": {"fill": "#eeeeee"}}
      ]
    }
  ]
}
